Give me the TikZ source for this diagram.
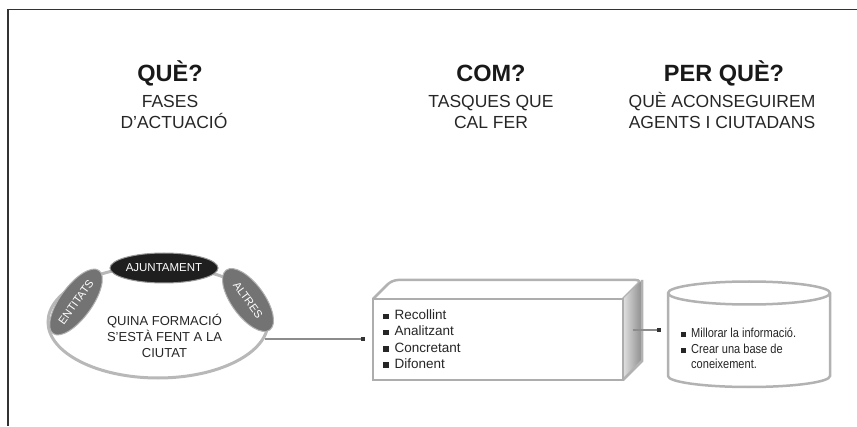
\documentclass[tikz,border=0pt]{standalone}
\usepackage{fontspec}
\setmainfont{Liberation Sans}
\newfontfamily\narrowfont[FakeStretch=0.85]{Liberation Sans}
\usetikzlibrary{shapes.geometric,arrows.meta}
\newcommand\sqbul{\rule[0.5pt]{5.5pt}{5.5pt}\hspace{6pt}}
\newcommand\sqbuln{\rule[0.5pt]{5pt}{5pt}\hspace{5pt}}
\begin{document}
\begin{tikzpicture}[x=1pt,y=1pt,
  hd/.style={font=\fontsize{23.5}{26}\selectfont\bfseries, anchor=base, inner sep=0pt, text=black!90},
  sub/.style={font=\fontsize{17.5}{20}\selectfont, anchor=base, inner sep=0pt, text=black!85},
  side/.style={ellipse, fill=black!55, draw=black!30, line width=1pt, inner sep=0pt, text=white, font=\fontsize{11}{13}\selectfont},
  item/.style={anchor=base west, inner sep=0pt, font=\fontsize{13.5}{16}\selectfont, text=black!85},
  nitem/.style={anchor=base west, inner sep=0pt, font=\narrowfont\fontsize{13}{16}\selectfont, text=black!85},
  edge/.style={black!30, line width=2.5pt},
  conn/.style={black!45, line width=1.5pt, -{Square[length=4pt,width=4pt,color=black!80,fill=black!80]}, shorten >=7pt}
]
\useasboundingbox (0,0) rectangle (857,426);
% frame
\draw[black!80, line width=1.5pt] (857,416.7) -- (8,416.7) -- (8,0);

% headings
\node[hd] (h1) at (170,344.5) {QUÈ?};
\node[sub] (h1a) at (170,318.5) {FASES};
\node[sub] (h1b) at (174,297) {D’ACTUACIÓ};
\node[hd] (h2) at (491,344.5) {COM?};
\node[sub] (h2a) at (491,318.5) {TASQUES QUE};
\node[sub] (h2b) at (491,297) {CAL FER};
\node[hd] (h3) at (724,344.5) {PER QUÈ?};
\node[sub] (h3a) at (722,318.5) {QUÈ ACONSEGUIREM};
\node[sub] (h3b) at (722,297) {AGENTS I CIUTADANS};

% left ellipse group
\node[ellipse, draw=black!28, line width=3pt, fill=white, minimum width=220pt, minimum height=112pt, inner sep=0pt] (outer) at (158,104) {};
\node[align=center, font=\fontsize{13}{16}\selectfont, text=black!85] (q) at (164.5,90) {QUINA FORMACIÓ\\S’ESTÀ FENT A LA\\CIUTAT};
\node[side, rotate=54, minimum width=78pt, minimum height=32pt] (ent) at (76,124) {ENTITATS};
\node[side, rotate=-54, minimum width=74pt, minimum height=33pt] (alt) at (248,126) {ALTRES};
\node[ellipse, fill=black!88, draw=black!40, line width=1pt, minimum width=98pt, minimum height=30pt, inner sep=0pt, text=white, font=\fontsize{11.5}{13}\selectfont] (aj) at (164,158) {AJUNTAMENT};

% box (cuboid)
\draw[edge, fill=white, rounded corners=6pt] (373,127) -- (392,146) -- (642,146) -- (623,127);
\shade[left color=black!12, right color=black!45] (623,46) -- (623,127) -- (642,146) -- (642,65) -- cycle;
\draw[edge] (623,46) -- (642,65) -- (642,146);
\node[draw=black!32, line width=2.5pt, fill=white, minimum width=250pt, minimum height=81pt, inner sep=0pt] (box) at (498,86.5) {};
\node[item] (b1) at (383,106) {\sqbul Recollint};
\node[item] (b2) at (383,90) {\sqbul Analitzant};
\node[item] (b3) at (383,74) {\sqbul Concretant};
\node[item] (b4) at (383,58) {\sqbul Difonent};

% cylinder
\draw[edge, fill=white] (668,133) -- (668,50) arc[start angle=180, end angle=360, x radius=81, y radius=11] -- (830,133) arc[start angle=0, end angle=180, x radius=81, y radius=11.5] -- cycle;
\draw[edge] (668,133) arc[start angle=180, end angle=360, x radius=81, y radius=11.5];
\coordinate (cylw) at (668,96);
\node[nitem] (c1) at (681,88.5) {\sqbuln Millorar la informació.};
\node[nitem] (c2) at (681,72.5) {\sqbuln Crear una base de};
\node[nitem] (c3) at (691,57) {coneixement.};

% connectors
\draw[conn] (outer.351) -- (outer.351 -| box.west);
\coordinate (sidec) at (632.5,96);
\draw[conn] (sidec) -- (cylw);
\end{tikzpicture}
\end{document}
